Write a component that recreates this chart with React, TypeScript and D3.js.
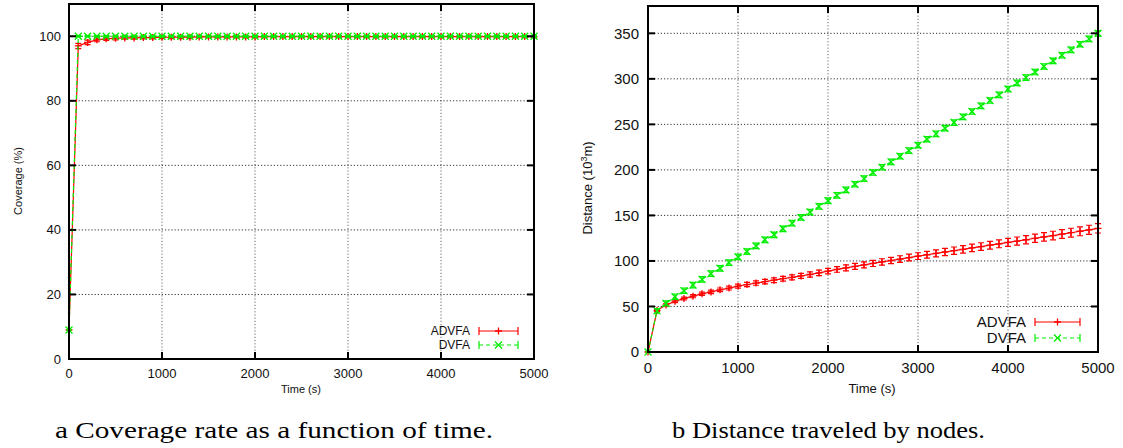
import React from 'react';
import * as d3 from 'd3';

// ---------- data ----------
const times = [
  0, 100, 200, 300, 400, 500, 600, 700, 800, 900,
  1000, 1100, 1200, 1300, 1400, 1500, 1600, 1700, 1800, 1900,
  2000, 2100, 2200, 2300, 2400, 2500, 2600, 2700, 2800, 2900,
  3000, 3100, 3200, 3300, 3400, 3500, 3600, 3700, 3800, 3900,
  4000, 4100, 4200, 4300, 4400, 4500, 4600, 4700, 4800, 4900,
  5000,
];

const coverageADVFA = [
  9, 97.0, 98.1, 98.9, 99.2, 99.4, 99.5, 99.5, 99.6, 99.6,
  99.7, 99.7, 99.7, 99.7, 99.8, 99.8, 99.8, 99.8, 99.8, 99.8,
  99.8, 99.9, 99.9, 99.9, 99.9, 99.9, 99.9, 99.9, 99.9, 99.9,
  99.9, 99.9, 99.9, 99.9, 99.9, 99.9, 99.9, 99.9, 99.9, 99.9,
  99.9, 99.9, 99.9, 99.9, 99.9, 99.9, 99.9, 99.9, 99.9, 99.9,
  99.9,
];
const coverageADVFAErr = [
  0, 0.8, 0.7, 0.6, 0.5, 0.5, 0.4, 0.4, 0.4, 0.4,
  0.4, 0.4, 0.4, 0.4, 0.3, 0.3, 0.3, 0.3, 0.3, 0.3,
  0.3, 0.3, 0.3, 0.3, 0.3, 0.3, 0.3, 0.3, 0.3, 0.3,
  0.3, 0.3, 0.3, 0.3, 0.3, 0.3, 0.3, 0.3, 0.3, 0.3,
  0.3, 0.3, 0.3, 0.3, 0.3, 0.3, 0.3, 0.3, 0.3, 0.3,
  0.3,
];
const coverageDVFA = [
  9, 100, 100, 100, 100, 100, 100, 100, 100, 100,
  100, 100, 100, 100, 100, 100, 100, 100, 100, 100,
  100, 100, 100, 100, 100, 100, 100, 100, 100, 100,
  100, 100, 100, 100, 100, 100, 100, 100, 100, 100,
  100, 100, 100, 100, 100, 100, 100, 100, 100, 100,
  100,
];
const coverageDVFAErr = [
  0, 0.2, 0.2, 0.2, 0.2, 0.2, 0.2, 0.2, 0.2, 0.2,
  0.2, 0.2, 0.2, 0.2, 0.2, 0.2, 0.2, 0.2, 0.2, 0.2,
  0.2, 0.2, 0.2, 0.2, 0.2, 0.2, 0.2, 0.2, 0.2, 0.2,
  0.2, 0.2, 0.2, 0.2, 0.2, 0.2, 0.2, 0.2, 0.2, 0.2,
  0.2, 0.2, 0.2, 0.2, 0.2, 0.2, 0.2, 0.2, 0.2, 0.2,
  0.2,
];

const distanceADVFA = [
  0, 45.5, 51.5, 55.8, 58.7, 61.3, 63.9, 66.0, 68.3, 70.2,
  72.3, 74.1, 75.7, 77.3, 78.9, 80.5, 82.0, 83.6, 85.1, 86.9,
  88.9, 90.7, 92.4, 94.0, 95.7, 97.3, 98.9, 100.5, 102.1, 103.7,
  105.3, 106.8, 108.3, 109.8, 111.3, 112.8, 114.3, 115.8, 117.3, 118.8,
  120.3, 121.8, 123.3, 124.9, 126.4, 127.9, 129.5, 131.0, 132.6, 134.2,
  135.8,
];
const distanceADVFAErr = [
  0, 1.2, 1.4, 1.5, 1.6, 1.7, 1.8, 1.9, 2.0, 2.1,
  2.2, 2.3, 2.4, 2.5, 2.6, 2.6, 2.7, 2.8, 2.9, 3.0,
  3.0, 3.1, 3.2, 3.3, 3.3, 3.4, 3.5, 3.5, 3.6, 3.7,
  3.7, 3.8, 3.9, 3.9, 4.0, 4.1, 4.1, 4.2, 4.3, 4.3,
  4.4, 4.5, 4.5, 4.6, 4.7, 4.7, 4.8, 4.9, 4.9, 5.0,
  5.1,
];
const distanceDVFA = [
  0, 45.2, 53.3, 60.7, 67.3, 73.5, 79.8, 86.0, 91.9, 98.2,
  104.4, 110.3, 116.5, 123.2, 128.7, 135.3, 141.5, 147.8, 153.7, 159.9,
  166.2, 172.0, 178.0, 184.2, 190.4, 197.1, 202.9, 208.8, 215.0, 221.2,
  227.1, 233.7, 239.6, 245.8, 252.0, 258.2, 264.1, 270.3, 276.2, 282.4,
  288.8, 295.5, 301.3, 307.5, 313.6, 319.8, 325.9, 331.8, 338.0, 343.9,
  350.0,
];
const distanceDVFAErr = [
  0, 2.5, 2.8, 3.0, 3.0, 3.0, 3.0, 3.0, 3.0, 3.0,
  3.0, 3.0, 3.0, 3.0, 3.0, 3.0, 3.0, 3.0, 3.0, 3.0,
  3.0, 3.0, 3.0, 3.0, 3.0, 3.0, 3.0, 3.0, 3.0, 3.0,
  3.0, 3.0, 3.0, 3.0, 3.0, 3.0, 3.0, 3.0, 3.0, 3.0,
  3.0, 3.0, 3.0, 3.0, 3.0, 3.0, 3.0, 3.0, 3.0, 3.0,
  3.0,
];

const xTicks = [0, 1000, 2000, 3000, 4000, 5000];
const coverageTicks = [0, 20, 40, 60, 80, 100];
const distanceTicks = [0, 50, 100, 150, 200, 250, 300, 350];
const seriesNames = ['ADVFA', 'DVFA'];
const captions = ['a Coverage rate as a function of time.', 'b Distance traveled by nodes.'];

const RED = '#ff0000';
const GREEN = '#00ee00';
const SANS = "'Liberation Sans', Arial, Helvetica, sans-serif";
const SERIF = "'Liberation Serif', 'Times New Roman', serif";

type Series = {
  name: string;
  values: number[];
  errors: number[];
  color: string;
  marker: 'plus' | 'cross';
  dashed: boolean;
};

function markerPath(kind: 'plus' | 'cross', x: number, y: number, s: number) {
  if (kind === 'plus') return `M${x - s},${y}H${x + s}M${x},${y - s}V${y + s}`;
  return `M${x - s},${y - s}L${x + s},${y + s}M${x - s},${y + s}L${x + s},${y - s}`;
}

type PanelProps = {
  x0: number; x1: number; yTop: number; yBot: number; yMax: number;
  yTicks: number[]; font: number; legendFont: number; xLabelY: number; yLabelRight: number;
  series: Series[];
  legendTextRight: number; legendY: number[]; legendX1: number; legendX2: number;
  yTitle: React.ReactNode; yTitlePos: [number, number]; yTitleFont: number;
  xTitlePos: [number, number]; xTitleFont: number;
  markerSize: number;
};

function Panel(p: PanelProps) {
  const x = d3.scaleLinear().domain([0, 5000]).range([p.x0, p.x1]);
  const y = d3.scaleLinear().domain([0, p.yMax]).range([p.yBot, p.yTop]);
  const tickLen = 7;
  const cap = 3;
  const ms = p.markerSize;
  const line = d3.line<number>().x((_, i) => x(times[i])).y((v) => y(v));
  const sans = { fontFamily: SANS };
  return (
    <g>
      {/* grid */}
      {xTicks.filter((t) => t > 0 && t < 5000).map((t) => (
        <line key={'gx' + t} x1={x(t)} x2={x(t)} y1={p.yTop} y2={p.yBot}
          stroke="#666" strokeWidth={1} strokeDasharray="1.2,2" />
      ))}
      {p.yTicks.filter((t) => t > 0).map((t) => (
        <line key={'gy' + t} x1={p.x0} x2={p.x1} y1={y(t)} y2={y(t)}
          stroke="#333" strokeWidth={1} strokeDasharray="1.2,2" />
      ))}
      {/* series */}
      {p.series.map((s) => (
        <g key={s.name}>
          <path d={line(s.values) || ''} fill="none" stroke={s.color} strokeWidth={1.2}
            strokeDasharray={s.dashed ? '4,3' : undefined} />
          {s.values.map((v, i) => {
            const cx = x(times[i]);
            const ya = y(v - s.errors[i]);
            const yb = y(v + s.errors[i]);
            return (
              <g key={i}>
                <path d={`M${cx},${ya}V${yb}M${cx - cap},${ya}H${cx + cap}M${cx - cap},${yb}H${cx + cap}`}
                  stroke={s.color} strokeWidth={1.2} fill="none" />
                <path d={markerPath(s.marker, cx, y(v), ms)} stroke={s.color} strokeWidth={1.3} fill="none" />
              </g>
            );
          })}
        </g>
      ))}
      {/* ticks */}
      {xTicks.map((t) => (
        <g key={'tx' + t}>
          <line x1={x(t)} x2={x(t)} y1={p.yBot} y2={p.yBot - tickLen} stroke="#000" strokeWidth={2} />
          <line x1={x(t)} x2={x(t)} y1={p.yTop} y2={p.yTop + tickLen} stroke="#000" strokeWidth={2} />
          <text x={x(t)} y={p.xLabelY} dy="0.35em" textAnchor="middle" style={sans}
            fontSize={p.font} fill="#111">{t}</text>
        </g>
      ))}
      {p.yTicks.map((t) => (
        <g key={'ty' + t}>
          <line x1={p.x0} x2={p.x0 + tickLen} y1={y(t)} y2={y(t)} stroke="#000" strokeWidth={2} />
          <line x1={p.x1} x2={p.x1 - tickLen} y1={y(t)} y2={y(t)} stroke="#000" strokeWidth={2} />
          <text x={p.yLabelRight} y={y(t)} dy="0.35em" textAnchor="end" style={sans}
            fontSize={p.font} fill="#111">{t}</text>
        </g>
      ))}
      {/* frame */}
      <rect x={p.x0} y={p.yTop} width={p.x1 - p.x0} height={p.yBot - p.yTop}
        fill="none" stroke="#000" strokeWidth={2} />
      {/* legend */}
      {p.series.map((s, i) => {
        const ly = p.legendY[i];
        const mx = (p.legendX1 + p.legendX2) / 2;
        return (
          <g key={'lg' + s.name}>
            <text x={p.legendTextRight} y={ly} dy="0.35em" textAnchor="end" style={sans}
              fontSize={p.legendFont} fill="#111">{s.name}</text>
            <line x1={p.legendX1} x2={p.legendX2} y1={ly} y2={ly} stroke={s.color} strokeWidth={1.2}
              strokeDasharray={s.dashed ? '4,3' : undefined} />
            <path d={`M${p.legendX1},${ly - 4}V${ly + 4}M${p.legendX2},${ly - 4}V${ly + 4}`}
              stroke={s.color} strokeWidth={1.2} />
            <path d={markerPath(s.marker, mx, ly, ms)} stroke={s.color} strokeWidth={1.3} fill="none" />
          </g>
        );
      })}
      {/* titles */}
      <text transform={`translate(${p.yTitlePos[0]},${p.yTitlePos[1]}) rotate(-90)`} textAnchor="middle"
        dy="0.35em" style={sans} fontSize={p.yTitleFont} fill="#111">{p.yTitle}</text>
      <text x={p.xTitlePos[0]} y={p.xTitlePos[1]} dy="0.35em" textAnchor="middle" style={sans}
        fontSize={p.xTitleFont} fill="#111">Time (s)</text>
    </g>
  );
}

export default function App() {
  const leftSeries: Series[] = [
    { name: seriesNames[0], values: coverageADVFA, errors: coverageADVFAErr, color: RED, marker: 'plus', dashed: false },
    { name: seriesNames[1], values: coverageDVFA, errors: coverageDVFAErr, color: GREEN, marker: 'cross', dashed: true },
  ];
  const rightSeries: Series[] = [
    { name: seriesNames[0], values: distanceADVFA, errors: distanceADVFAErr, color: RED, marker: 'plus', dashed: false },
    { name: seriesNames[1], values: distanceDVFA, errors: distanceDVFAErr, color: GREEN, marker: 'cross', dashed: true },
  ];
  return (
    <svg width={1123} height={448} style={{ position: 'absolute', left: 0, top: 0, background: '#fff' }}>
      <rect x={0} y={0} width={1123} height={448} fill="#fff" />
      <Panel x0={69} x1={534} yTop={4} yBot={359} yMax={110} yTicks={coverageTicks} font={13} legendFont={12}
        xLabelY={373} yLabelRight={61} series={leftSeries}
        legendTextRight={470} legendY={[331, 345]} legendX1={479} legendX2={518}
        yTitle="Coverage (%)" yTitlePos={[18, 181]} yTitleFont={11}
        xTitlePos={[301, 389]} xTitleFont={11} markerSize={3.5} />
      <Panel x0={648} x1={1098} yTop={6} yBot={352} yMax={380} yTicks={distanceTicks} font={15} legendFont={15}
        xLabelY={368} yLabelRight={639} series={rightSeries}
        legendTextRight={1026} legendY={[322, 338]} legendX1={1035} legendX2={1080}
        yTitle={<>Distance (10<tspan dy="-5" fontSize={9}>3</tspan><tspan dy="5">m)</tspan></>}
        yTitlePos={[587, 188]} yTitleFont={13}
        xTitlePos={[872, 388]} xTitleFont={13} markerSize={3.5} />
      <text x={55} y={438} style={{ fontFamily: SERIF }} fontSize={24} fill="#000" textLength={438}
        lengthAdjust="spacingAndGlyphs">{captions[0]}</text>
      <text x={672} y={438} style={{ fontFamily: SERIF }} fontSize={24} fill="#000" textLength={313}
        lengthAdjust="spacingAndGlyphs">{captions[1]}</text>
    </svg>
  );
}
